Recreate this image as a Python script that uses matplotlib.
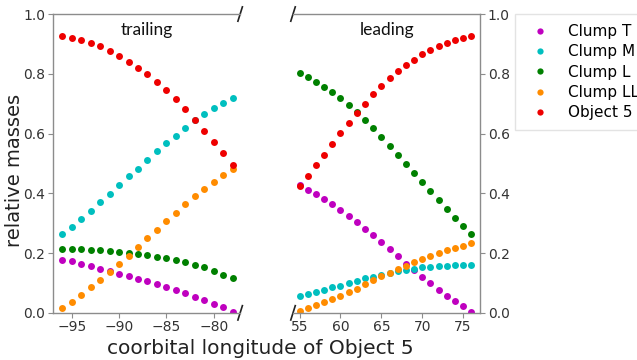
import matplotlib
matplotlib.use("Agg")
import matplotlib.pyplot as plt
import numpy as np

# Coorbital longitudes (degrees) for the trailing and leading sides
lon_trailing = list(range(-96, -77))
lon_leading = list(range(55, 77))

# Relative masses, trailing side
trail_T = [0.178, 0.173, 0.164, 0.156, 0.148, 0.140, 0.130, 0.122, 0.114, 0.105,
           0.096, 0.085, 0.076, 0.065, 0.052, 0.042, 0.031, 0.018, 0.002]
trail_M = [0.265, 0.288, 0.314, 0.340, 0.370, 0.398, 0.427, 0.457, 0.483, 0.510,
           0.540, 0.569, 0.593, 0.619, 0.644, 0.665, 0.686, 0.702, 0.719]
trail_L = [0.215, 0.214, 0.213, 0.211, 0.209, 0.206, 0.203, 0.200, 0.196, 0.192,
           0.187, 0.182, 0.176, 0.169, 0.161, 0.152, 0.140, 0.128, 0.116]
trail_LL = [0.017, 0.037, 0.060, 0.085, 0.109, 0.137, 0.164, 0.191, 0.221, 0.250,
            0.278, 0.306, 0.334, 0.363, 0.390, 0.416, 0.438, 0.460, 0.482]
trail_O5 = [0.928, 0.920, 0.912, 0.903, 0.892, 0.877, 0.860, 0.841, 0.821, 0.798,
            0.774, 0.745, 0.714, 0.681, 0.644, 0.610, 0.572, 0.534, 0.495]

# Relative masses, leading side
lead_T = [0.428, 0.412, 0.398, 0.381, 0.365, 0.344, 0.323, 0.303, 0.282, 0.259, 0.236,
          0.212, 0.189, 0.165, 0.143, 0.120, 0.100, 0.078, 0.058, 0.040, 0.022, 0.003]
lead_M = [0.056, 0.062, 0.070, 0.078, 0.085, 0.091, 0.100, 0.107, 0.115, 0.121, 0.128,
          0.134, 0.139, 0.145, 0.148, 0.152, 0.155, 0.157, 0.158, 0.159, 0.159, 0.159]
lead_L = [0.803, 0.789, 0.774, 0.756, 0.739, 0.718, 0.694, 0.672, 0.645, 0.617, 0.589,
          0.560, 0.529, 0.499, 0.468, 0.437, 0.407, 0.377, 0.348, 0.319, 0.292, 0.265]
lead_LL = [0.005, 0.017, 0.025, 0.035, 0.045, 0.056, 0.069, 0.080, 0.095, 0.109, 0.122,
           0.134, 0.147, 0.158, 0.169, 0.181, 0.191, 0.201, 0.209, 0.217, 0.225, 0.234]
lead_O5 = [0.426, 0.459, 0.496, 0.529, 0.566, 0.602, 0.635, 0.669, 0.700, 0.731, 0.758,
           0.785, 0.809, 0.829, 0.847, 0.865, 0.880, 0.892, 0.904, 0.913, 0.920, 0.927]

series_names = ["Clump T", "Clump M", "Clump L", "Clump LL", "Object 5"]
series_colors = ["#bf00bf", "#00bfbf", "#008000", "#ff8c00", "#ee0000"]
trailing = [trail_T, trail_M, trail_L, trail_LL, trail_O5]
leading = [lead_T, lead_M, lead_L, lead_LL, lead_O5]

fig = plt.figure(figsize=(6.37, 3.60), dpi=100)
ax1 = fig.add_axes([0.083, 0.131, 0.294, 0.830])
ax2 = fig.add_axes([0.460, 0.131, 0.294, 0.830])

spine_col = "#8c8c8c"
for name, col, ys in zip(series_names, series_colors, trailing):
    ax1.plot(lon_trailing, ys, "o", color=col, ms=5, mec="none", label=name)
for name, col, ys in zip(series_names, series_colors, leading):
    ax2.plot(lon_leading, ys, "o", color=col, ms=5, mec="none", label=name)

ax1.set_xlim(-97.0, -77.2)
ax2.set_xlim(54.2, 77.1)
for ax in (ax1, ax2):
    ax.set_ylim(0, 1.0)
    ax.set_yticks(np.arange(0, 1.01, 0.2))
    for s in ax.spines.values():
        s.set_color(spine_col)
        s.set_linewidth(1.0)
    ax.tick_params(colors="#333333", labelsize=10, length=3.5, pad=2, color=spine_col)

ax1.spines["right"].set_visible(False)
ax2.spines["left"].set_visible(False)
ax2.yaxis.tick_right()
ax1.set_xticks([-95, -90, -85, -80])
ax1.set_xticklabels(["\u221295", "\u221290", "\u221285", "\u221280"])
ax2.set_xticks([55, 60, 65, 70, 75])

# Diagonal break marks between the two panels
d = 0.012
kw = dict(color="#222222", lw=1.2, clip_on=False)
ax1.plot((1 - d, 1 + d), (-d * 2, d * 2), transform=ax1.transAxes, **kw)
ax1.plot((1 - d, 1 + d), (1 - d * 2, 1 + d * 2), transform=ax1.transAxes, **kw)
ax2.plot((-d, d), (-d * 2, d * 2), transform=ax2.transAxes, **kw)
ax2.plot((-d, d), (1 - d * 2, 1 + d * 2), transform=ax2.transAxes, **kw)

title_font = dict(family=["Lato", "DejaVu Sans"], fontsize=12.5, color="#111111")
ax1.text(0.5, 0.975, "trailing", transform=ax1.transAxes, ha="center", va="top", **title_font)
ax2.text(0.5, 0.975, "leading", transform=ax2.transAxes, ha="center", va="top", **title_font)

fig.text(15 / 637, 1 - 170 / 360, "relative masses", fontsize=14, color="#222222",
         rotation=90, ha="center", va="center")
fig.text(260 / 637, 0.006, "coorbital longitude of Object 5", fontsize=14.5,
         color="#222222", ha="center", va="bottom")

fig.legend(*ax2.get_legend_handles_labels(), loc="upper left",
           bbox_to_anchor=(515 / 637, 1 - 14 / 360), borderaxespad=0,
           fontsize=11, frameon=True, handletextpad=0.8, labelspacing=0.35,
           borderpad=0.65, markerscale=0.9, handlelength=2.0, fancybox=False,
           edgecolor="#dddddd")

fig.savefig("out.png", dpi=100)
